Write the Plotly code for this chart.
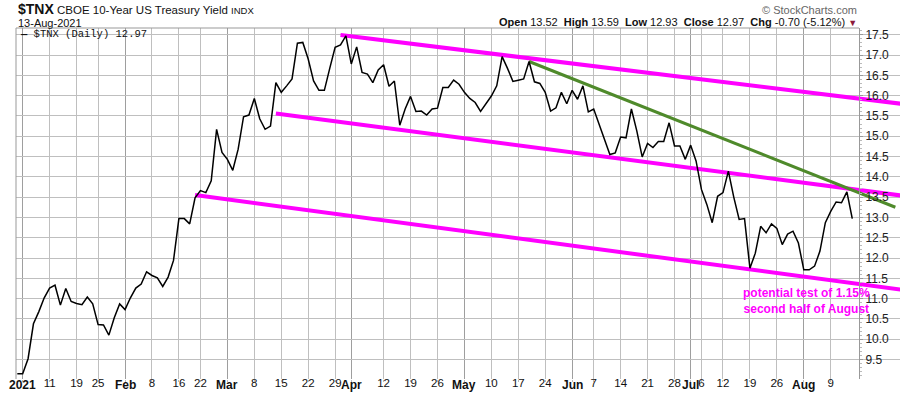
import pandas as pd
import plotly.graph_objects as go

# ---------------- data ----------------
holidays = ["2021-01-01", "2021-01-18", "2021-02-15", "2021-04-02", "2021-05-31", "2021-07-05"]
calendar = [d.strftime("%Y-%m-%d") for d in pd.bdate_range("2020-12-31", "2021-08-31")
            if d.strftime("%Y-%m-%d") not in holidays]

tnx = [
    9.15,
    # Jan
    9.15, 9.52, 10.38, 10.68, 11.02, 11.26, 11.33, 10.84, 11.25, 10.93,
    10.88, 10.85, 11.04, 10.87, 10.36, 10.35, 10.10, 10.53, 10.87,
    # Feb
    10.73, 11.02, 11.26, 11.36, 11.66, 11.57, 11.51, 11.30, 11.53, 11.94,
    12.97, 12.97, 12.84, 13.48, 13.66, 13.61, 13.90, 15.17, 14.60,
    # Mar
    14.43, 14.16, 14.68, 15.48, 15.52, 15.93, 15.43, 15.17, 15.25, 16.32,
    16.08, 16.24, 16.41, 17.29, 17.31, 16.90, 16.36, 16.13, 16.13, 16.67,
    17.19, 17.25, 17.47,
    # Apr
    16.78, 17.20, 16.57, 16.53, 16.32, 16.63, 16.76, 16.23, 16.36, 15.27,
    15.67, 15.98, 15.61, 15.62, 15.52, 15.67, 15.69, 16.20, 16.20, 16.38, 16.28,
    # May
    16.08, 15.93, 15.83, 15.61, 15.79, 15.99, 16.24, 16.96, 16.67, 16.35,
    16.38, 16.41, 16.84, 16.34, 16.30, 16.08, 15.62, 15.70, 16.08, 15.80,
    # Jun
    16.13, 15.91, 16.24, 15.60, 15.67, 15.29, 14.92, 14.55, 14.59, 14.98,
    14.96, 15.67, 15.13, 14.49, 14.82, 14.72, 14.87, 14.87, 15.33, 14.76,
    14.76, 14.43,
    # Jul
    14.78, 14.39, 13.69, 13.32, 12.87, 13.52, 13.61, 14.14, 13.50, 12.95,
    12.97, 11.75, 12.12, 12.78, 12.62, 12.84, 12.73, 12.33, 12.59, 12.66, 12.37,
    # Aug
    11.71, 11.71, 11.80, 12.17, 12.87, 13.15, 13.38, 13.36, 13.63, 12.97,
]
dates = calendar[:len(tnx)]

# weekly tick labels (regular) and month tick labels (bold)
week_dates = ["2021-01-11", "2021-01-19", "2021-01-25", "2021-02-08", "2021-02-16", "2021-02-22",
              "2021-03-08", "2021-03-15", "2021-03-22", "2021-03-29", "2021-04-12", "2021-04-19",
              "2021-04-26", "2021-05-10", "2021-05-17", "2021-05-24", "2021-06-07", "2021-06-14",
              "2021-06-21", "2021-06-28", "2021-07-06", "2021-07-12", "2021-07-19", "2021-07-26",
              "2021-08-09"]
week_labels = ["11", "19", "25", "8", "16", "22", "8", "15", "22", "29", "12", "19", "26",
               "10", "17", "24", "7", "14", "21", "28", "6", "12", "19", "26", "9"]
month_dates = ["2021-01-04", "2021-02-01", "2021-03-01", "2021-04-01", "2021-05-03",
               "2021-06-01", "2021-07-01", "2021-08-02"]
month_labels = ["2021", "Feb", "Mar", "Apr", "May", "Jun", "Jul", "Aug"]
y_ticks = [9.5, 10.0, 10.5, 11.0, 11.5, 12.0, 12.5, 13.0, 13.5, 14.0, 14.5, 15.0, 15.5,
           16.0, 16.5, 17.0, 17.5]

# trend lines: (dates, values)
upper_dates, upper_vals = ["2021-03-30", "2021-08-26"], [17.49, 15.80]
middle_dates, middle_vals = ["2021-03-12", "2021-08-26"], [15.56, 13.54]
lower_dates, lower_vals = ["2021-02-19", "2021-08-26"], [13.55, 11.22]
green_dates, green_vals = ["2021-05-19", "2021-08-25"], [16.84, 13.25]

# ---------------- figure ----------------
idx = {d: i for i, d in enumerate(calendar)}
xs = [idx[d] for d in dates]

W, H = 900, 396
L, R, T, B = 16, 900, 28, 379
AXIS_X = 859
GRID = "#bfbfbf"
GRID_MONTH = "#9e9e9e"
XRANGE = [-0.24, 163.86]
YRANGE = [9.02, 17.665]


def px(x):
    return (x - L) / (R - L)


def py(y):
    return (B - y) / (B - T)


fig = go.Figure()

MAG = "#ff00ff"
GREEN = "#4f8a2b"
for dts, vals, col, w in [(upper_dates, upper_vals, MAG, 4), (middle_dates, middle_vals, MAG, 4),
                          (lower_dates, lower_vals, MAG, 4), (green_dates, green_vals, GREEN, 3)]:
    fig.add_trace(go.Scatter(x=[idx[d] for d in dts], y=vals, mode="lines",
                             line=dict(color=col, width=w), hoverinfo="skip", showlegend=False))

fig.add_trace(go.Scatter(x=xs, y=tnx, mode="lines", line=dict(color="#000000", width=1.5),
                         showlegend=False))

fig.update_layout(
    width=W, height=H,
    margin=dict(l=L, r=W - R, t=T, b=H - B),
    paper_bgcolor="white", plot_bgcolor="white",
    template="none",
    showlegend=False,
    hovermode=False,
    font=dict(family="Liberation Sans, Arial, sans-serif", color="#222"),
    xaxis=dict(
        range=XRANGE, domain=[0, 1],
        tickmode="array", tickvals=[idx[d] for d in week_dates], ticktext=week_labels,
        tickfont=dict(size=11.5, color="#111"),
        showgrid=True, gridcolor=GRID, gridwidth=1,
        ticks="outside", ticklen=2, tickcolor="#bbb", ticklabelstandoff=-9,
        showline=False, zeroline=False, automargin=False,
        minor=dict(tickmode="array", tickvals=[idx[d] for d in month_dates],
                   ticks="outside", ticklen=2, tickcolor="#bbb",
                   showgrid=True, gridcolor=GRID_MONTH, gridwidth=1),
    ),
    yaxis=dict(
        range=YRANGE, domain=[0, 1],
        anchor="free", position=px(AXIS_X), side="right",
        tickmode="array", tickvals=y_ticks, tickformat=".1f",
        tickfont=dict(size=12, color="#222"),
        showgrid=True, gridcolor=GRID, gridwidth=1,
        ticks="outside", ticklen=3, tickcolor="#999",
        showline=True, linecolor="#999", linewidth=1,
        zeroline=False, automargin=False,
        minor=dict(dtick=0.1, ticks="outside", ticklen=2, tickcolor="#bbb", showgrid=False),
    ),
)

shapes = [
    # hide grid to the right of the value axis
    dict(type="rect", xref="paper", yref="paper", x0=px(AXIS_X) + 0.001, x1=1, y0=0, y1=1,
         fillcolor="white", line=dict(width=0), layer="between"),
    # frame: left and top
    dict(type="line", xref="paper", yref="paper", x0=0, x1=0, y0=0, y1=1,
         line=dict(color="#999", width=1), layer="above"),
    dict(type="line", xref="paper", yref="paper", x0=0, x1=px(AXIS_X), y0=1, y1=1,
         line=dict(color="#999", width=1), layer="above"),
]
fig.update_layout(shapes=shapes)

ann = []
# bold month labels on the date axis
for d, lab in zip(month_dates, month_labels):
    ann.append(dict(x=idx[d], xref="x", y=py(384.5), yref="paper", xanchor="center",
                    yanchor="middle", showarrow=False, text="<b>%s</b>" % lab,
                    font=dict(size=12, color="#111")))
ann.append(dict(x=px(16), y=py(9), xref="paper", yref="paper", xanchor="left", yanchor="middle",
                showarrow=False,
                text="<b><span style='font-size:14px'>$TNX</span></b> CBOE 10-Year US Treasury Yield "
                     "<span style='font-size:9.5px'>INDX</span>",
                font=dict(size=11.5, color="#111")))
ann.append(dict(x=px(16), y=py(23), xref="paper", yref="paper", xanchor="left", yanchor="middle",
                showarrow=False, text="13-Aug-2021", font=dict(size=11, color="#111")))
ann.append(dict(x=px(AXIS_X), y=py(10), xref="paper", yref="paper", xanchor="right", yanchor="middle",
                showarrow=False, text="\u00a9 StockCharts.com", font=dict(size=11, color="#666")))
ann.append(dict(x=px(AXIS_X), y=py(22.5), xref="paper", yref="paper", xanchor="right", yanchor="middle",
                showarrow=False,
                text="<b>Open</b> 13.52  <b>High</b> 13.59  <b>Low</b> 12.93  <b>Close</b> 12.97  "
                     "<b>Chg</b> -0.70 (-5.12%) <span style='color:#8b1a3a;font-size:9px'>\u25bc</span>",
                font=dict(size=11, color="#111")))
ann.append(dict(x=px(18), y=py(34.5), xref="paper", yref="paper", xanchor="left", yanchor="middle",
                showarrow=False, text="<b>\u2014</b> $TNX (Daily) 12.97",
                font=dict(family="Liberation Mono, DejaVu Sans Mono, monospace", size=10.5, color="#111")))
ann.append(dict(x=px(806), y=py(301), xref="paper", yref="paper", xanchor="center", yanchor="middle",
                showarrow=False, align="center",
                text="<b>potential test of 1.15%</b><br><b>second half of August</b>",
                font=dict(size=12, color=MAG)))
fig.update_layout(annotations=ann)

fig.write_html("out.html", config={"displayModeBar": False, "staticPlot": True},
               post_script="document.body.style.margin='0px';")
